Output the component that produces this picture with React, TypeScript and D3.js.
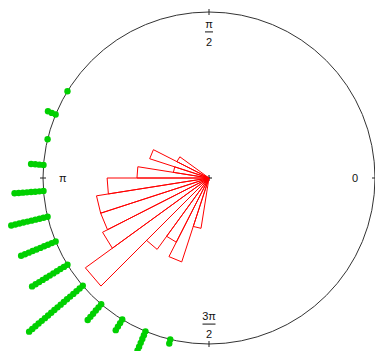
import * as d3 from "d3";

// 9-degree bins (start angle, counter-clockwise from east) and their counts
const binStarts = [144, 153, 162, 171, 180, 189, 198, 207, 216, 225, 234, 243, 252];
const binCounts = [1, 3, 1, 4, 8, 10, 10, 11, 18, 6, 4, 6, 2];
const binWidth = 9;

// axis labels around the circle
const tickAngles = [0, 90, 180, 270];
const tickNumer = ["0", "π", "π", "3π"];
const tickDenom = ["", "2", "", "2"];

const width = 375;
const height = 351;
const cx = 209;
const cy = 178;
const R = 166;

const rad = (deg: number) => (deg * Math.PI) / 180;
const polar = (deg: number, rr: number): [number, number] => [
  cx + rr * Math.cos(rad(deg)),
  cy - rr * Math.sin(rad(deg)),
];

function App() {
  // radius in units of the unit circle
  const r = d3.scaleLinear().domain([0, 1]).range([0, R]);
  const petalR = d3
    .scaleSqrt()
    .domain([0, 1])
    .range([0, r(0.217)]);
  const sep = 0.025;
  const labelR = r(0.88);

  const dots: { x: number; y: number; key: string }[] = [];
  binStarts.forEach((start, i) => {
    const mid = start + binWidth / 2;
    for (let j = 0; j < binCounts[i]; j++) {
      const [x, y] = polar(mid, r(1 + j * sep));
      dots.push({ x, y, key: `${i}-${j}` });
    }
  });

  const petalLine = d3.line();

  return (
    <svg
      width={width}
      height={height}
      style={{ position: "absolute", left: 0, top: 0, background: "#fff" }}
      fontFamily="'Liberation Sans', Arial, sans-serif"
    >
      {/* circle */}
      <circle cx={cx} cy={cy} r={R} fill="none" stroke="#333" strokeWidth={1} />

      {/* ticks */}
      {tickAngles.map((a) => {
        const [x1, y1] = polar(a, R - 3);
        const [x2, y2] = polar(a, R + 3);
        return <line key={a} x1={x1} y1={y1} x2={x2} y2={y2} stroke="#222" strokeWidth={1} />;
      })}

      {/* labels */}
      {tickAngles.map((a, i) => {
        const [x, y] = polar(a, labelR);
        if (!tickDenom[i]) {
          return (
            <text key={a} x={x} y={y} textAnchor="middle" dominantBaseline="central" fontSize={11} fill="#111">
              {tickNumer[i]}
            </text>
          );
        }
        const w = tickNumer[i].length > 1 ? 13 : 8;
        return (
          <g key={a} fontSize={11} fill="#111">
            <text x={x} y={y - 8} textAnchor="middle" dominantBaseline="central">
              {tickNumer[i]}
            </text>
            <line x1={x - w / 2} x2={x + w / 2} y1={y} y2={y} stroke="#111" strokeWidth={1} />
            <text x={x} y={y + 10} textAnchor="middle" dominantBaseline="central">
              {tickDenom[i]}
            </text>
          </g>
        );
      })}

      {/* centre mark */}
      <path d={`M${cx - 3},${cy}H${cx + 3}M${cx},${cy - 3}V${cy + 3}`} stroke="#000" strokeWidth={1} />

      {/* stacked points */}
      {dots.map((d) => (
        <circle key={d.key} cx={d.x} cy={d.y} r={3.2} fill="#00d000" />
      ))}

      {/* rose petals */}
      {binStarts.map((start, i) => {
        const pr = petalR(binCounts[i]);
        const pts: [number, number][] = [
          [cx, cy],
          polar(start, pr),
          polar(start + binWidth, pr),
          [cx, cy],
        ];
        return (
          <path
            key={start}
            d={petalLine(pts) + "Z"}
            fill="none"
            stroke="#ff0000"
            strokeWidth={1}
            strokeLinejoin="miter"
          />
        );
      })}
    </svg>
  );
}

export default App;
